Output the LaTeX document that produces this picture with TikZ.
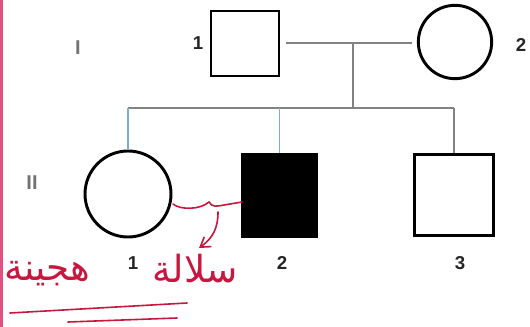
\documentclass[tikz,border=0pt]{standalone}
\usepackage{fontspec}
\setmainfont{Liberation Sans}
\newfontfamily\arabicfont[Script=Arabic]{DejaVu Sans}
\TeXXeTstate=1
\usetikzlibrary{positioning, arrows.meta}
\definecolor{penred}{RGB}{200, 22, 62}
\definecolor{marginpink}{RGB}{228, 80, 130}
\definecolor{lineblue}{RGB}{120, 178, 205}
\definecolor{linegray}{RGB}{130, 130, 130}

\begin{document}
\begin{tikzpicture}[x=0.75pt, y=-0.75pt,
    male/.style={draw, rectangle, line width=2.2pt, inner sep=0pt},
    female/.style={draw, circle, line width=2.2pt, inner sep=0pt},
    affected/.style={fill=black},
    idlabel/.style={font=\fontsize{14}{16}\selectfont\bfseries, text=black!85},
    genlabel/.style={font=\fontsize{15}{17}\selectfont\bfseries, text=black!55},
    link/.style={linegray, line width=1.3pt},
    childlink/.style={lineblue, line width=1pt},
    pen/.style={penred, line width=1.2pt, line cap=round},
    note/.style={text=penred, inner sep=0pt, font=\arabicfont\fontsize{28}{30}\selectfont}]
    \useasboundingbox (0,0) rectangle (530,327);

    % margin of the sheet
    \fill[marginpink] (0,0) rectangle (2.5,327);

    % Generation I
    \node[genlabel] (genI) at (78,48) {I};
    \node[male, minimum width=51pt, minimum height=48.75pt] (I1) at (245,43.5) {};
    \node[female, minimum size=55pt] (I2) at (455,42) {};
    \node[idlabel] (lI1) at (198,43) {1};
    \node[idlabel] (lI2) at (521,45) {2};

    % mating and sibship
    \coordinate (mate) at (353,43);
    \coordinate (sib) at (353,108);
    \draw[link, shorten <=4pt, shorten >=4pt] (I1.east |- mate) -- (I2.west |- mate);
    \draw[link] (mate) -- (sib);

    % Generation II
    \node[genlabel] (genII) at (32,183) {II};
    \node[female, minimum size=64.5pt] (II1) at (128,194) {};
    \node[male, affected, minimum width=56.25pt, minimum height=62.25pt] (II2) at (279.5,195.5) {};
    \node[male, minimum width=59.25pt, minimum height=60.75pt] (II3) at (454,195) {};
    \node[idlabel] (lII1) at (133,263) {1};
    \node[idlabel] (lII2) at (282,263) {2};
    \node[idlabel] (lII3) at (460,263) {3};

    \draw[link] (II1 |- sib) -- (II3 |- sib);
    \draw[childlink] (II1 |- sib) -- (II1.north);
    \draw[childlink] (II2 |- sib) -- (II2.north);
    \draw[link] (II3 |- sib) -- (II3.north);

    % handwritten note
    \coordinate (wavestart) at (173,204);
    \coordinate (waveend) at (242,202);
    \draw[pen] (wavestart) .. controls (180,210) and (200,210) .. (209,202)
        .. controls (212,208) and (218,206) .. (224,205) -- (waveend);
    \coordinate (arrowstart) at (218,212);
    \coordinate (arrowend) at (199,248);
    \draw[pen, -{Straight Barb[length=7pt, width=9pt]}] (arrowstart)
        .. controls (218,228) and (213,238) .. (arrowend);
    \node[note, anchor=base east] (noteA) at (238,282) {\beginR سلالة\endR};
    \node[note, anchor=base west] (noteB) at (4,280) {\beginR هجينة\endR};
    \coordinate (ulA) at (10,313);
    \coordinate (ulB) at (187,303);
    \coordinate (ulC) at (68,322);
    \coordinate (ulD) at (177,318);
    \draw[pen] (ulA) -- (ulB);
    \draw[pen] (ulC) -- (ulD);
\end{tikzpicture}
\end{document}
